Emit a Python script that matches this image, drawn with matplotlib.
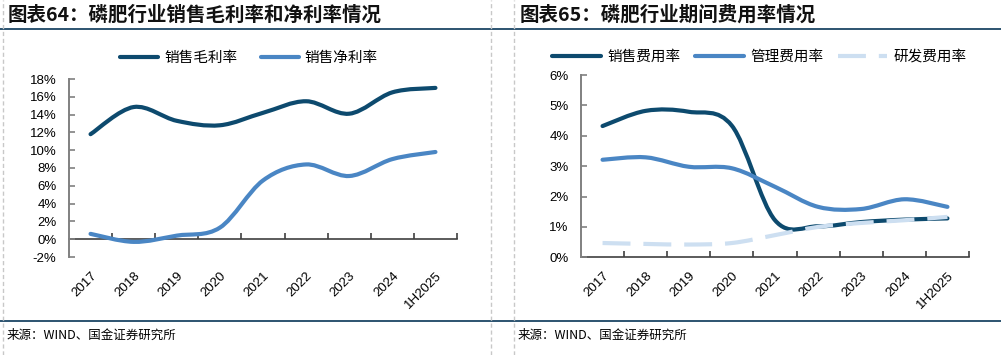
import matplotlib
matplotlib.use("Agg")
import matplotlib.pyplot as plt
from matplotlib.path import Path
from matplotlib.patches import PathPatch
from matplotlib.lines import Line2D
import numpy as np

plt.rcParams['font.family'] = ['Liberation Sans', 'Noto Sans CJK SC', 'DejaVu Sans']

# data (%)
years = ["2017", "2018", "2019", "2020", "2021", "2022", "2023", "2024", "1H2025"]
gross_margin = [11.8, 14.85, 13.3, 12.8, 14.2, 15.5, 14.1, 16.5, 17.0]
net_margin = [0.6, -0.3, 0.4, 1.3, 6.6, 8.4, 7.1, 9.0, 9.8]
selling_exp = [4.32, 4.82, 4.79, 4.33, 1.22, 1.02, 1.16, 1.24, 1.28]
admin_exp = [3.21, 3.29, 2.98, 2.93, 2.32, 1.66, 1.59, 1.91, 1.66]
rd_exp = [0.47, 0.44, 0.42, 0.47, 0.73, 1.00, 1.13, 1.22, 1.33]

DARK = "#0d4a6e"
MID = "#4a86c4"
LIGHT = "#cddff1"
NAVY = "#1b4565"
CJK = ['Noto Sans CJK SC', 'DejaVu Sans']


def smooth_path(xs, ys):
    # excel-style smoothed line: bezier with control points from neighbours
    pts = np.column_stack([xs, ys])
    n = len(pts)
    verts = [pts[0]]
    codes = [Path.MOVETO]
    for i in range(n - 1):
        p0 = pts[max(i - 1, 0)]
        p1 = pts[i]
        p2 = pts[i + 1]
        p3 = pts[min(i + 2, n - 1)]
        verts += [p1 + (p2 - p0) / 6, p2 - (p3 - p1) / 6, p2]
        codes += [Path.CURVE4] * 3
    return Path(verts, codes)


def draw_line(ax, vals, color, ls="-"):
    x = np.arange(len(vals)) + 0.5
    patch = PathPatch(smooth_path(x, vals), fill=False, edgecolor=color, lw=3,
                      linestyle=ls, capstyle="round" if ls == "-" else "butt",
                      joinstyle="round")
    ax.add_patch(patch)


def setup_axes(ax, ymin, ymax, step, zero_frac):
    n = len(years)
    ax.set_xlim(0, n)
    ax.set_ylim(ymin, ymax)
    ax.set_yticks(np.arange(ymin, ymax + 0.1, step))
    ax.set_yticklabels(["%d%%" % v for v in np.arange(ymin, ymax + 0.1, step)])
    for s in ["top", "right", "bottom"]:
        ax.spines[s].set_visible(False)
    ax.spines["left"].set_color("#808080")
    ax.spines["left"].set_linewidth(1.4)
    ax.tick_params(axis="y", direction="in", length=4, width=1.2, color="#808080",
                   labelsize=9.5, pad=9)
    ax.set_xticks(np.arange(n) + 0.5)
    ax.set_xticklabels(years, rotation=45, ha="right", rotation_mode="anchor")
    ax.tick_params(axis="x", length=0, labelsize=9.5, pad=9)
    sec = ax.secondary_xaxis(zero_frac)
    sec.set_xticks(np.arange(1, n + 1))
    sec.set_xticklabels([])
    sec.tick_params(direction="in", length=4, width=1.2, color="#404040")
    sec.spines["bottom"].set_color("#404040")
    sec.spines["bottom"].set_linewidth(1.2)


fig = plt.figure(figsize=(10.01, 3.55), dpi=100)

# left chart
ax1 = fig.add_axes([69 / 1001, 98 / 355, 388 / 1001, 178 / 355])
setup_axes(ax1, -2, 18, 2, 0.1)
draw_line(ax1, gross_margin, DARK)
draw_line(ax1, net_margin, MID)
h1 = [Line2D([], [], color=DARK, lw=3, solid_capstyle="round"),
      Line2D([], [], color=MID, lw=3, solid_capstyle="round")]
fig.legend(h1, ["销售毛利率", "销售净利率"], loc="center", bbox_to_anchor=(249 / 1001, 1 - 58 / 355),
           ncol=2, frameon=False, handlelength=2.6, handletextpad=0.4, columnspacing=1.6,
           prop={'family': CJK, 'size': 10.5})

# right chart (series order as in excel: later ones on top)
ax2 = fig.add_axes([581 / 1001, 97.7 / 355, 388 / 1001, 182.3 / 355])
setup_axes(ax2, 0, 6, 1, 0.0)
draw_line(ax2, selling_exp, DARK)
draw_line(ax2, admin_exp, MID)
draw_line(ax2, rd_exp, LIGHT, ls=(0, (6.7, 3.1)))
h2 = [Line2D([], [], color=DARK, lw=3, solid_capstyle="round"),
      Line2D([], [], color=MID, lw=3, solid_capstyle="round"),
      Line2D([], [], color=LIGHT, lw=3, linestyle=(0, (6.7, 3.1)))]
fig.legend(h2, ["销售费用率", "管理费用率", "研发费用率"], loc="center",
           bbox_to_anchor=(759 / 1001, 1 - 57 / 355), ncol=3, frameon=False,
           handlelength=3.4, handletextpad=0.4, columnspacing=1.0,
           prop={'family': CJK, 'size': 10.5})

# titles, rules, sources
fig.text(8 / 1001, 1 - 15 / 355, "图表64：磷肥行业销售毛利率和净利率情况", family=CJK,
         fontsize=14, fontweight="bold", va="center", color="#111111")
fig.text(520 / 1001, 1 - 15 / 355, "图表65：磷肥行业期间费用率情况", family=CJK,
         fontsize=14, fontweight="bold", va="center", color="#111111")
for yy in [29.3, 321]:
    fig.add_artist(Line2D([0, 1], [1 - yy / 355] * 2, color=NAVY, lw=1.3))
for xx in [3, 490.7, 514.3]:
    fig.add_artist(Line2D([xx / 1001] * 2, [0, 1], color="#c8c8c8", lw=1, linestyle=(0, (3, 2))))
fig.text(7 / 1001, 1 - 335 / 355, "来源：WIND、国金证券研究所", family=CJK, fontsize=9, va="center")
fig.text(518 / 1001, 1 - 335 / 355, "来源：WIND、国金证券研究所", family=CJK, fontsize=9, va="center")

fig.savefig("out.png", dpi=100, facecolor="white")
